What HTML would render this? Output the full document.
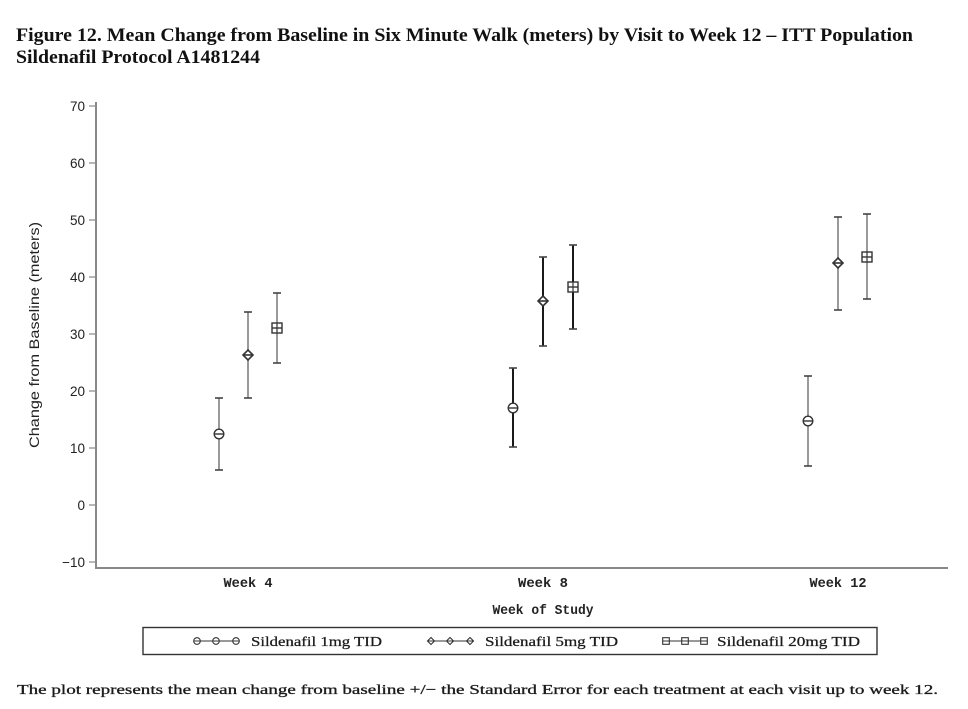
<!DOCTYPE html>
<html>
<head>
<meta charset="utf-8">
<style>
html,body{margin:0;padding:0;background:#fff;}
svg{display:block;}
</style>
</head>
<body>
<svg width="968" height="709" viewBox="0 0 968 709" xmlns="http://www.w3.org/2000/svg">
  <rect width="968" height="709" fill="#fff"/>
  <!-- Title -->
  <text x="16" y="41" font-family="Liberation Serif, serif" font-weight="bold" font-size="19" fill="#111" textLength="897" lengthAdjust="spacingAndGlyphs">Figure 12. Mean Change from Baseline in Six Minute Walk (meters) by Visit to Week 12 – ITT Population</text>
  <text x="16" y="63" font-family="Liberation Serif, serif" font-weight="bold" font-size="19" fill="#111" textLength="244" lengthAdjust="spacingAndGlyphs">Sildenafil Protocol A1481244</text>

  <!-- Axes -->
  <line x1="96" y1="102" x2="96" y2="569" stroke="#888" stroke-width="2"/>
  <line x1="95" y1="568" x2="948" y2="568" stroke="#888" stroke-width="2"/>

  <!-- Y ticks -->
  <g stroke="#888" stroke-width="1.2">
    <line x1="89" y1="106" x2="96" y2="106"/>
    <line x1="89" y1="163" x2="96" y2="163"/>
    <line x1="89" y1="220" x2="96" y2="220"/>
    <line x1="89" y1="277" x2="96" y2="277"/>
    <line x1="89" y1="334" x2="96" y2="334"/>
    <line x1="89" y1="391" x2="96" y2="391"/>
    <line x1="89" y1="448" x2="96" y2="448"/>
    <line x1="89" y1="505" x2="96" y2="505"/>
    <line x1="89" y1="562" x2="96" y2="562"/>
  </g>
  <g font-family="Liberation Sans, sans-serif" font-size="13.5" fill="#222" text-anchor="end">
    <text x="85" y="111">70</text>
    <text x="85" y="168">60</text>
    <text x="85" y="225">50</text>
    <text x="85" y="282">40</text>
    <text x="85" y="339">30</text>
    <text x="85" y="396">20</text>
    <text x="85" y="453">10</text>
    <text x="85" y="510">0</text>
    <text x="85" y="567">−10</text>
  </g>

  <!-- Y title -->
  <text transform="translate(39,335) rotate(-90)" font-family="Liberation Sans, sans-serif" font-size="13.5" fill="#222" text-anchor="middle" textLength="226" lengthAdjust="spacingAndGlyphs">Change from Baseline (meters)</text>

  <!-- X labels -->
  <g font-family="Liberation Mono, monospace" font-weight="bold" font-size="14" fill="#222" text-anchor="middle">
    <text x="248" y="587" textLength="49" lengthAdjust="spacingAndGlyphs">Week 4</text>
    <text x="543" y="587" textLength="50" lengthAdjust="spacingAndGlyphs">Week 8</text>
    <text x="838" y="587" textLength="57" lengthAdjust="spacingAndGlyphs">Week 12</text>
    <text x="543" y="614" textLength="101" lengthAdjust="spacingAndGlyphs">Week of Study</text>
  </g>

  <!-- Error bars -->
  <g stroke="#9a9a9a" stroke-width="2">
    <line x1="219" y1="398" x2="219" y2="470"/>
    <line x1="248" y1="312" x2="248" y2="398"/>
    <line x1="277" y1="293" x2="277" y2="363"/>
  </g>
  <g stroke="#1a1a1a" stroke-width="2">
    <line x1="513" y1="368" x2="513" y2="447"/>
    <line x1="543" y1="257" x2="543" y2="346"/>
    <line x1="573" y1="245" x2="573" y2="329"/>
  </g>
  <g stroke="#9a9a9a" stroke-width="2">
    <line x1="808" y1="376" x2="808" y2="466"/>
    <line x1="838" y1="217" x2="838" y2="310"/>
    <line x1="867" y1="214" x2="867" y2="299"/>
  </g>
  <!-- Caps -->
  <g stroke="#444" stroke-width="1.6">
    <line x1="215" y1="398" x2="223" y2="398"/>
    <line x1="215" y1="470" x2="223" y2="470"/>
    <line x1="244" y1="312" x2="252" y2="312"/>
    <line x1="244" y1="398" x2="252" y2="398"/>
    <line x1="273" y1="293" x2="281" y2="293"/>
    <line x1="273" y1="363" x2="281" y2="363"/>
    <line x1="509" y1="368" x2="517" y2="368"/>
    <line x1="509" y1="447" x2="517" y2="447"/>
    <line x1="539" y1="257" x2="547" y2="257"/>
    <line x1="539" y1="346" x2="547" y2="346"/>
    <line x1="569" y1="245" x2="577" y2="245"/>
    <line x1="569" y1="329" x2="577" y2="329"/>
    <line x1="804" y1="376" x2="812" y2="376"/>
    <line x1="804" y1="466" x2="812" y2="466"/>
    <line x1="834" y1="217" x2="842" y2="217"/>
    <line x1="834" y1="310" x2="842" y2="310"/>
    <line x1="863" y1="214" x2="871" y2="214"/>
    <line x1="863" y1="299" x2="871" y2="299"/>
  </g>

  <!-- Markers -->
  <defs>
    <g id="circ">
      <circle cx="0" cy="0" r="4.8" fill="#fff" stroke="#333" stroke-width="1.4"/>
      <line x1="-4.8" y1="0" x2="4.8" y2="0" stroke="#333" stroke-width="1.4"/>
    </g>
    <g id="diam">
      <path d="M0,-5 L5,0 L0,5 L-5,0 Z" fill="#fff" stroke="#333" stroke-width="1.6"/>
      <line x1="-5" y1="0" x2="5" y2="0" stroke="#333" stroke-width="1.6"/>
    </g>
    <g id="sq">
      <rect x="-5" y="-5" width="10" height="10" fill="#fff" stroke="#333" stroke-width="1.4"/>
      <line x1="-5" y1="0" x2="5" y2="0" stroke="#333" stroke-width="1.4"/>
      <line x1="0" y1="-5" x2="0" y2="5" stroke="#333" stroke-width="1.2"/>
    </g>
  </defs>
  <use href="#circ" x="219" y="434"/>
  <use href="#diam" x="248" y="355"/>
  <use href="#sq" x="277" y="328"/>
  <use href="#circ" x="513" y="408"/>
  <use href="#diam" x="543" y="301"/>
  <use href="#sq" x="573" y="287"/>
  <use href="#circ" x="808" y="421"/>
  <use href="#diam" x="838" y="263"/>
  <use href="#sq" x="867" y="257"/>

  <!-- Legend -->
  <rect x="143" y="627.5" width="734" height="27" fill="#fff" stroke="#333" stroke-width="1.4"/>
  <defs>
    <g id="lc"><circle r="3.3" fill="#fff" stroke="#333" stroke-width="1.1"/><line x1="-3.3" x2="3.3" stroke="#333" stroke-width="1"/></g>
    <g id="ld"><path d="M0,-3.5 L3.5,0 L0,3.5 L-3.5,0 Z" fill="#fff" stroke="#333" stroke-width="1.1"/><line x1="-3.5" x2="3.5" stroke="#333" stroke-width="1"/></g>
    <g id="ls"><rect x="-3.3" y="-3.3" width="6.6" height="6.6" fill="#fff" stroke="#333" stroke-width="1.1"/><line x1="-3.3" x2="3.3" stroke="#333" stroke-width="1"/></g>
  </defs>
  <line x1="197" y1="641" x2="236" y2="641" stroke="#333" stroke-width="1"/>
  <use href="#lc" x="197" y="641"/><use href="#lc" x="216" y="641"/><use href="#lc" x="236" y="641"/>
  <line x1="431" y1="641" x2="470" y2="641" stroke="#333" stroke-width="1"/>
  <use href="#ld" x="431" y="641"/><use href="#ld" x="450" y="641"/><use href="#ld" x="470" y="641"/>
  <line x1="666" y1="641" x2="704" y2="641" stroke="#333" stroke-width="1"/>
  <use href="#ls" x="666" y="641"/><use href="#ls" x="685" y="641"/><use href="#ls" x="704" y="641"/>
  <g font-family="Liberation Serif, serif" font-size="14" fill="#1a1a1a" stroke="#1a1a1a" stroke-width="0.25">
    <text x="251" y="646" textLength="131" lengthAdjust="spacingAndGlyphs">Sildenafil 1mg TID</text>
    <text x="485" y="646" textLength="133" lengthAdjust="spacingAndGlyphs">Sildenafil 5mg TID</text>
    <text x="717" y="646" textLength="143" lengthAdjust="spacingAndGlyphs">Sildenafil 20mg TID</text>
  </g>

  <!-- Footnote -->
  <text x="17" y="694" font-family="Liberation Serif, serif" font-size="14" fill="#1a1a1a" stroke="#1a1a1a" stroke-width="0.3" textLength="921" lengthAdjust="spacingAndGlyphs">The plot represents the mean change from baseline +/− the Standard Error for each treatment at each visit up to week 12.</text>
</svg>
</body>
</html>
